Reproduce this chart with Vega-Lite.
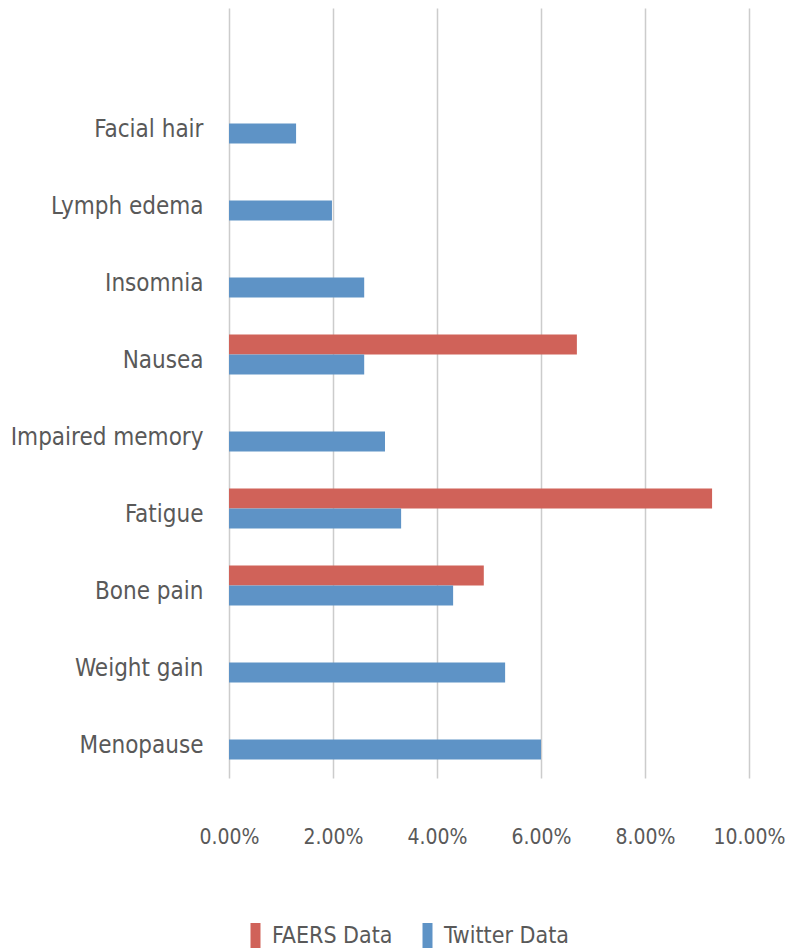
{
  "$schema": "https://vega.github.io/schema/vega-lite/v6.json",
  "width": 520,
  "height": 770,
  "autosize": {"type": "none"},
  "padding": {"left": 229, "top": 8, "right": 39, "bottom": 173},
  "background": "white",
  "config": {
    "font": "DejaVu Sans Condensed, Liberation Sans Narrow, sans-serif",
    "view": {"stroke": null}
  },
  "data": {
    "values": [
      {"symptom": "Facial hair", "source": "Twitter Data", "value": 0.0129},
      {"symptom": "Lymph edema", "source": "Twitter Data", "value": 0.0198},
      {"symptom": "Insomnia", "source": "Twitter Data", "value": 0.026},
      {"symptom": "Nausea", "source": "FAERS Data", "value": 0.0669},
      {"symptom": "Nausea", "source": "Twitter Data", "value": 0.026},
      {"symptom": "Impaired memory", "source": "Twitter Data", "value": 0.030},
      {"symptom": "Fatigue", "source": "FAERS Data", "value": 0.0929},
      {"symptom": "Fatigue", "source": "Twitter Data", "value": 0.0331},
      {"symptom": "Bone pain", "source": "FAERS Data", "value": 0.049},
      {"symptom": "Bone pain", "source": "Twitter Data", "value": 0.0431},
      {"symptom": "Weight gain", "source": "Twitter Data", "value": 0.0531},
      {"symptom": "Menopause", "source": "Twitter Data", "value": 0.060}
    ]
  },
  "mark": {"type": "bar"},
  "encoding": {
    "y": {
      "field": "symptom",
      "type": "nominal",
      "scale": {
        "domain": [" ", "Facial hair", "Lymph edema", "Insomnia", "Nausea", "Impaired memory", "Fatigue", "Bone pain", "Weight gain", "Menopause"],
        "paddingInner": 0.48,
        "paddingOuter": 0.24
      },
      "axis": {
        "title": null,
        "domain": false,
        "ticks": false,
        "labelPadding": 26,
        "labelOffset": 6,
        "labelFontSize": 24,
        "labelColor": "#595959",
        "labelLimit": 300
      }
    },
    "yOffset": {
      "field": "source",
      "type": "nominal",
      "scale": {"domain": ["FAERS Data", "Twitter Data"], "paddingInner": 0, "paddingOuter": 0}
    },
    "x": {
      "field": "value",
      "type": "quantitative",
      "scale": {"domain": [0, 0.1], "nice": false},
      "axis": {
        "title": null,
        "format": ".2%",
        "values": [0, 0.02, 0.04, 0.06, 0.08, 0.1],
        "domain": false,
        "ticks": false,
        "grid": true,
        "gridColor": "#CCCCCC",
        "gridWidth": 1.5,
        "labelPadding": 59,
        "labelBaseline": "middle",
        "labelFontSize": 21,
        "labelColor": "#595959",
        "labelFlush": false
      }
    },
    "color": {
      "field": "source",
      "type": "nominal",
      "scale": {"domain": ["FAERS Data", "Twitter Data"], "range": ["#D06259", "#5E93C6"]},
      "legend": {
        "title": null,
        "orient": "none",
        "direction": "horizontal",
        "legendX": 14,
        "legendY": 915,
        "symbolType": "M-0.4,-1H0.4V1H-0.4Z",
        "symbolSize": 625,
        "symbolStrokeWidth": 0,
        "labelFontSize": 23,
        "labelColor": "#595959",
        "columnPadding": 22,
        "labelOffset": 4
      }
    }
  }
}
